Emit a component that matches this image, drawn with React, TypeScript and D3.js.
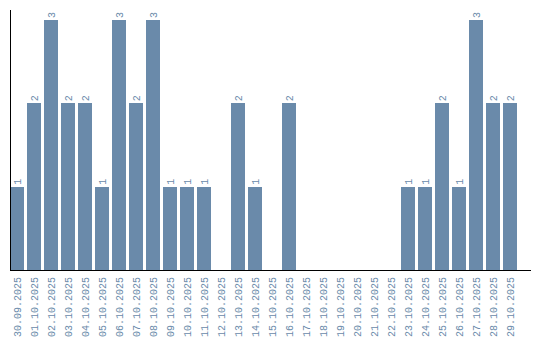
import React from "react";
import * as d3 from "d3";

const dates = [
  "30.09.2025", "01.10.2025", "02.10.2025", "03.10.2025", "04.10.2025",
  "05.10.2025", "06.10.2025", "07.10.2025", "08.10.2025", "09.10.2025",
  "10.10.2025", "11.10.2025", "12.10.2025", "13.10.2025", "14.10.2025",
  "15.10.2025", "16.10.2025", "17.10.2025", "18.10.2025", "19.10.2025",
  "20.10.2025", "21.10.2025", "22.10.2025", "23.10.2025", "24.10.2025",
  "25.10.2025", "26.10.2025", "27.10.2025", "28.10.2025", "29.10.2025",
];
const counts = [
  1, 2, 3, 2, 2, 1, 3, 2, 3, 1,
  1, 1, 0, 2, 1, 0, 2, 0, 0, 0,
  0, 0, 0, 1, 1, 2, 1, 3, 2, 2,
];

const W = 540;
const H = 340;
const left = 10;
const baseY = 270;
const topY = 20;
const barColor = "#6a8aaa";
const textColor = "#6a8aaa";
const font = "'Liberation Mono', monospace";

export default function App() {
  const x = d3
    .scaleBand<string>()
    .domain(dates)
    .range([left, left + dates.length * 17 - 3])
    .paddingInner(3 / 17)
    .paddingOuter(0);
  const y = d3.scaleLinear().domain([0, 3]).range([baseY, topY]);
  const bw = Math.round(x.bandwidth());

  return (
    <svg
      width={W}
      height={H}
      style={{ position: "absolute", left: 0, top: 0, background: "#fff" }}
    >
      {dates.map((d, i) => {
        const v = counts[i];
        const bx = Math.round(x(d) as number);
        const cx = bx + bw / 2;
        return (
          <g key={d}>
            {v > 0 && (
              <rect
                x={bx}
                y={y(v)}
                width={bw}
                height={baseY - y(v)}
                fill={barColor}
                shapeRendering="crispEdges"
              />
            )}
            {v > 0 && (
              <text
                transform={`translate(${cx + 3.5},${y(v) - 2}) rotate(-90)`}
                fontFamily={font}
                fontSize={10}
                fill={textColor}
                textAnchor="start"
              >
                {v}
              </text>
            )}
            <text
              transform={`translate(${cx + 3.5},${baseY + 7}) rotate(-90)`}
              fontFamily={font}
              fontSize={10}
              fill={textColor}
              textAnchor="end"
            >
              {d}
            </text>
          </g>
        );
      })}
      <line
        x1={10.5}
        x2={10.5}
        y1={10}
        y2={baseY}
        stroke="#000"
        strokeWidth={1}
      />
      <line
        x1={10}
        x2={531}
        y1={baseY + 0.5}
        y2={baseY + 0.5}
        stroke="#000"
        strokeWidth={1}
      />
    </svg>
  );
}
